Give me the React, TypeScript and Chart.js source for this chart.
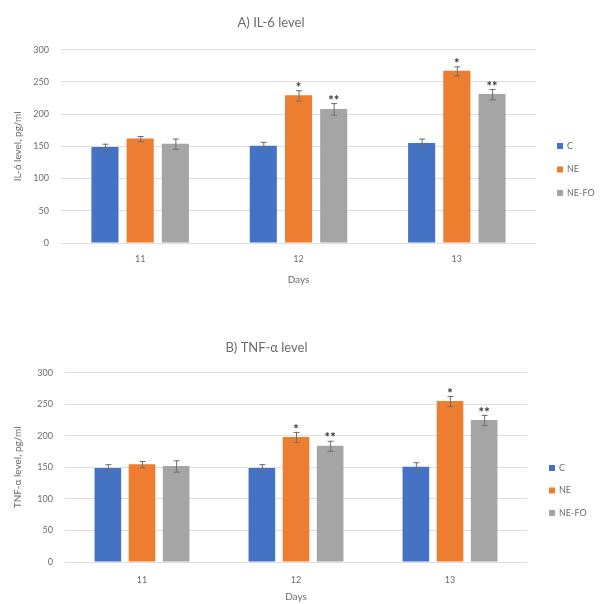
import React, { useEffect, useRef } from 'react';
import { Chart, registerables } from 'chart.js';

Chart.register(...registerables);

const days = ['11', '12', '13'];
const seriesLabels = ['C', 'NE', 'NE-FO'];
const seriesColors = ['#4472C4', '#ED7D31', '#A5A5A5'];

// A) IL-6 level (pg/ml)
const il6C = [149, 151, 155];
const il6NE = [162, 229, 267];
const il6NEFO = [154, 208, 231];
const il6ErrC = [5, 6, 7];
const il6ErrNE = [4, 8, 7];
const il6ErrNEFO = [8, 9, 8];

// B) TNF-α level (pg/ml)
const tnfC = [149, 149, 151];
const tnfNE = [155, 198, 255];
const tnfNEFO = [152, 184, 225];
const tnfErrC = [6, 6, 7];
const tnfErrNE = [5, 8, 8];
const tnfErrNEFO = [9, 8, 8];

const sigC = ['', '', ''];
const sigNE = ['', '*', '*'];
const sigNEFO = ['', '**', '**'];

const yMin = 0;
const yMax = 300;
const yStep = 50;

const FONT = 'Lato, "Open Sans", "Noto Sans", sans-serif';
const TEXT = '#6b6b6b';

const errorPlugin = {
  id: 'errorAndSig',
  afterDatasetsDraw(chart: any) {
    const ctx = chart.ctx;
    const y = chart.scales.y;
    chart.data.datasets.forEach((ds: any, i: number) => {
      const meta = chart.getDatasetMeta(i);
      meta.data.forEach((bar: any, j: number) => {
        const v = ds.data[j];
        const e = ds.errors ? ds.errors[j] : 0;
        const x = bar.x;
        const yTop = y.getPixelForValue(v + e);
        const yBot = y.getPixelForValue(v - e);
        ctx.save();
        ctx.strokeStyle = '#6e6e6e';
        ctx.lineWidth = 1;
        ctx.beginPath();
        ctx.moveTo(x + 0.5, yTop);
        ctx.lineTo(x + 0.5, yBot);
        ctx.moveTo(x - 2.5, yTop + 0.5);
        ctx.lineTo(x + 3.5, yTop + 0.5);
        ctx.moveTo(x - 2.5, yBot + 0.5);
        ctx.lineTo(x + 3.5, yBot + 0.5);
        ctx.stroke();
        const s = ds.sig ? ds.sig[j] : '';
        if (s) {
          ctx.fillStyle = '#333333';
          ctx.font = 'bold 13px ' + FONT;
          ctx.textAlign = 'center';
          ctx.textBaseline = 'top';
          ctx.fillText(s, x, yTop - 9);
        }
        ctx.restore();
      });
    });
  },
};

const legendPlugin = {
  id: 'sideLegend',
  afterDraw(chart: any, _args: any, opts: any) {
    const ctx = chart.ctx;
    ctx.save();
    chart.data.datasets.forEach((ds: any, i: number) => {
      const yy = opts.y + i * opts.dy;
      ctx.fillStyle = ds.backgroundColor;
      ctx.fillRect(opts.x - 3, yy - 3, 6, 6);
      ctx.fillStyle = TEXT;
      ctx.font = '9px ' + FONT;
      ctx.textAlign = 'left';
      ctx.textBaseline = 'middle';
      ctx.fillText(ds.label, opts.x + 7, yy);
    });
    ctx.restore();
  },
};

function buildConfig(p: any) {
  const vals = [p.c, p.ne, p.nefo];
  const errs = [p.ec, p.ene, p.enefo];
  const sigs = [sigC, sigNE, sigNEFO];
  return {
    type: 'bar',
    data: {
      labels: days,
      datasets: seriesLabels.map((lab, i) => ({
        label: lab,
        data: vals[i],
        errors: errs[i],
        sig: sigs[i],
        backgroundColor: seriesColors[i],
        borderWidth: 0,
        categoryPercentage: p.catPct,
        barPercentage: p.barPct,
      })),
    },
    options: {
      responsive: false,
      animation: false,
      layout: { padding: { left: 6, right: p.padRight, top: 0, bottom: p.padBottom } },
      plugins: {
        legend: { display: false },
        tooltip: { enabled: false },
        title: {
          display: true,
          text: p.title,
          color: TEXT,
          font: { family: FONT, size: 13, weight: 'normal' },
          padding: { top: p.titleTop, bottom: p.titleBottom },
        },
        sideLegend: { x: p.legX, y: p.legY, dy: p.legDy },
      },
      scales: {
        x: {
          grid: { display: false, drawTicks: false },
          border: { display: false },
          ticks: { color: TEXT, font: { family: FONT, size: 9 }, padding: p.xTickPad },
          title: {
            display: true,
            text: 'Days',
            color: TEXT,
            font: { family: FONT, size: 10 },
            padding: { top: 0, bottom: p.xTitleBottom },
          },
          afterFit: (scale: any) => {
            scale.height = p.xHeight;
          },
        },
        y: {
          min: yMin,
          max: yMax,
          grid: { color: '#dedede', drawTicks: false },
          border: { display: false },
          ticks: { stepSize: yStep, color: TEXT, font: { family: FONT, size: 9 }, padding: 12 },
          title: {
            display: true,
            text: p.yTitle,
            color: TEXT,
            font: { family: FONT, size: 10 },
            padding: { top: 6, bottom: 0 },
          },
          afterFit: (scale: any) => {
            scale.width = p.yWidth;
          },
        },
      },
    },
    plugins: [errorPlugin, legendPlugin],
  };
}

function Panel({ width, height, params }: any) {
  const ref = useRef<HTMLCanvasElement | null>(null);
  useEffect(() => {
    if (!ref.current) return;
    const chart = new Chart(ref.current, buildConfig(params) as any);
    return () => chart.destroy();
  }, []);
  return (
    <canvas
      ref={ref}
      width={width}
      height={height}
      style={{ display: 'block', width: width + 'px', height: height + 'px' }}
    />
  );
}

const topParams = {
  title: 'A) IL-6 level',
  yTitle: 'IL-6 level, pg/ml',
  c: il6C, ne: il6NE, nefo: il6NEFO,
  ec: il6ErrC, ene: il6ErrNE, enefo: il6ErrNEFO,
  catPct: 0.667, barPct: 0.77,
  padRight: 65, padBottom: 10, yWidth: 55,
  titleTop: 15, titleBottom: 19,
  xTickPad: 11, xTitleBottom: 4, xHeight: 47,
  legX: 560, legY: 146, legDy: 23.5,
};

const bottomParams = {
  title: 'B) TNF-α level',
  yTitle: 'TNF-α level, pg/ml',
  c: tnfC, ne: tnfNE, nefo: tnfNEFO,
  ec: tnfErrC, ene: tnfErrNE, enefo: tnfErrNEFO,
  catPct: 0.665, barPct: 0.78,
  padRight: 74, padBottom: 1, yWidth: 59,
  titleTop: 40, titleBottom: 17,
  xTickPad: 13, xTitleBottom: 0, xHeight: 41,
  legX: 552, legY: 168, legDy: 22.5,
};

export default function App() {
  return (
    <div style={{ position: 'absolute', left: 0, top: 0, width: 601, height: 604, background: '#fff' }}>
      <Panel width={601} height={300} params={topParams} />
      <Panel width={601} height={304} params={bottomParams} />
    </div>
  );
}
